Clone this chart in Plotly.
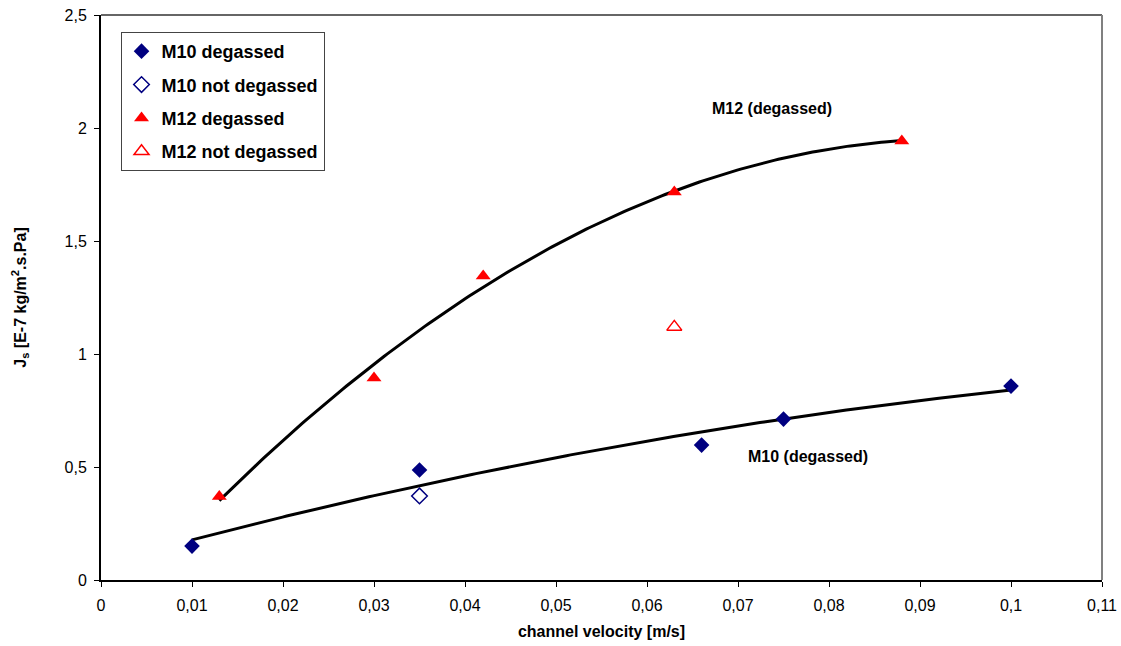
import numpy as np
import plotly.graph_objects as go

# Data
m10_deg_x = [0.01, 0.035, 0.066, 0.075, 0.10]
m10_deg_y = [0.15, 0.487, 0.597, 0.712, 0.858]
m10_not_x = [0.035]
m10_not_y = [0.372]
m12_deg_x = [0.013, 0.030, 0.042, 0.063, 0.088]
m12_deg_y = [0.37, 0.894, 1.345, 1.717, 1.942]
m12_not_x = [0.063]
m12_not_y = [1.12]

NAVY = "#000080"
RED = "#FF0000"
FONT = "Liberation Sans, Arial, sans-serif"

fig = go.Figure()

# Polynomial (order 2) trend lines over the data range
def trend(xs, ys):
    c = np.polyfit(xs, ys, 2)
    xx = np.linspace(min(xs), max(xs), 200)
    return xx, np.polyval(c, xx)

for xs, ys in [(m12_deg_x, m12_deg_y), (m10_deg_x, m10_deg_y)]:
    tx, ty = trend(xs, ys)
    fig.add_trace(go.Scatter(x=tx, y=ty, mode="lines", line=dict(color="black", width=3),
                             showlegend=False, hoverinfo="skip"))

fig.add_trace(go.Scatter(x=m10_deg_x, y=m10_deg_y, mode="markers", name="M10 degassed",
                         legendgroup="a",
                         marker=dict(symbol="diamond", size=12, color=NAVY)))
fig.add_trace(go.Scatter(x=m10_not_x, y=m10_not_y, mode="markers", name="M10 not degassed",
                         legendgroup="b",
                         marker=dict(symbol="diamond-open", size=12, color=NAVY, line=dict(width=1.5, color=NAVY))))
fig.add_trace(go.Scatter(x=m12_deg_x, y=m12_deg_y, mode="markers", name="M12 degassed",
                         legendgroup="c",
                         marker=dict(symbol="triangle-up", size=13, color=RED)))
fig.add_trace(go.Scatter(x=m12_not_x, y=m12_not_y, mode="markers", name="M12 not degassed",
                         legendgroup="d",
                         marker=dict(symbol="triangle-up-open", size=13, color=RED, line=dict(width=1.5, color=RED))))

fig.update_layout(
    width=1121, height=646,
    margin=dict(l=101, r=19, t=15, b=66, autoexpand=False),
    paper_bgcolor="white", plot_bgcolor="white",
    separators=",.",
    font=dict(family=FONT, size=16, color="black"),
    showlegend=True,
    legend=dict(
        x=0.0195, y=0.97, xanchor="left", yanchor="top",
        bordercolor="#444444", borderwidth=1, bgcolor="white",
        font=dict(family=FONT, size=18, color="black", weight="bold"),
        tracegroupgap=7, itemwidth=30,
    ),
    xaxis=dict(
        range=[0, 0.11], dtick=0.01, tick0=0, automargin=False,
        showgrid=False, zeroline=False,
        showline=True, linecolor="black", linewidth=2,
        ticks="outside", ticklen=5, tickcolor="black", tickwidth=1,
        ticklabelstandoff=5,
        tickfont=dict(family=FONT, size=16),
        title=dict(text="channel velocity [m/s]", standoff=13,
                   font=dict(family=FONT, size=16, weight="bold")),
    ),
    yaxis=dict(
        range=[0, 2.5], dtick=0.5, tick0=0, automargin=False,
        showgrid=False, zeroline=False,
        showline=True, linecolor="black", linewidth=2,
        ticks="outside", ticklen=5, tickcolor="black", tickwidth=1,
        ticklabelstandoff=4,
        tickfont=dict(family=FONT, size=16),
        title=dict(text="J<sub>s</sub> [E-7 kg/m<sup>2</sup>.s.Pa]", standoff=34,
                   font=dict(family=FONT, size=16, weight="bold")),
    ),
    shapes=[
        dict(type="line", xref="paper", yref="paper", x0=0, x1=1, y0=1, y1=1,
             line=dict(color="#333333", width=1.5)),
        dict(type="line", xref="paper", yref="paper", x0=1, x1=1, y0=0, y1=1,
             line=dict(color="#808080", width=2)),
    ],
    annotations=[
        dict(x=0.0737, y=2.088, xref="x", yref="y", text="M12 (degassed)", showarrow=False,
             font=dict(family=FONT, size=16, weight="bold")),
        dict(x=0.0777, y=0.546, xref="x", yref="y", text="M10 (degassed)", showarrow=False,
             font=dict(family=FONT, size=16, weight="bold")),
    ],
)

fig.write_html("out.html")
